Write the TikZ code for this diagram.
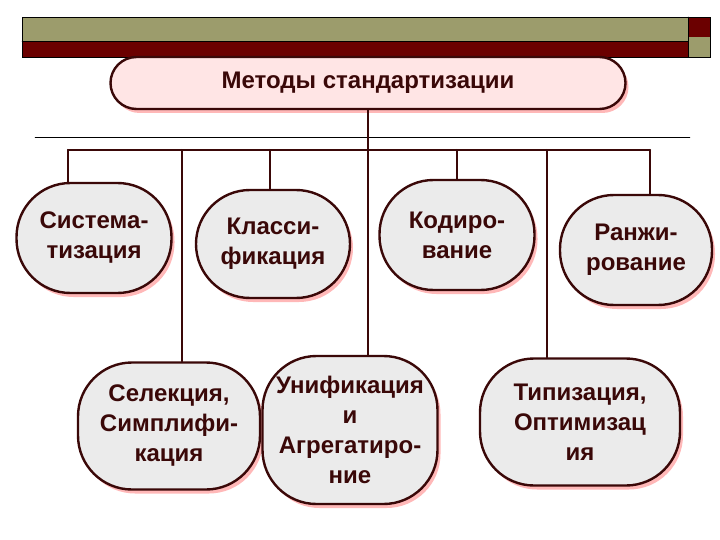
\documentclass[tikz,border=0pt]{standalone}
\usepackage{fontspec}
\setmainfont{Liberation Sans}
\usetikzlibrary{shadows}
\definecolor{olivebar}{HTML}{9C9C6C}
\definecolor{darkred}{HTML}{6B0000}
\definecolor{edge}{HTML}{3A0808}
\begin{document}
\begin{tikzpicture}
  [x=1pt,y=-1pt, line cap=round,
   box/.style={draw=edge,line width=2.4pt,rounded corners=54pt,fill=black!8,
     drop shadow={shadow xshift=3pt,shadow yshift=-4pt,fill=red!35,opacity=0.8},
     align=center,font=\bfseries\fontsize{24}{30}\selectfont,text=edge,inner sep=0pt},
   link/.style={draw=edge,line width=2pt}]
  \useasboundingbox (0,0) rectangle (720,540);
  % header bars
  \fill[olivebar] (22,17) rectangle (688,41);
  \fill[darkred] (22,41) rectangle (688,57);
  \fill[darkred] (688,17) rectangle (710,37);
  \fill[olivebar] (688,37) rectangle (710,57);
  \draw[black,thin] (22,17) rectangle (710,57) (22,41) -- (688,41) (688,17) -- (688,57);

  \node[box,fill=red!10,rounded corners=26pt,minimum width=515pt,minimum height=52pt,font=\bfseries\fontsize{24}{28}\selectfont] (root) at (368,83) {Методы стандартизации};
  \node[box,minimum width=155pt,minimum height=110pt] (sys) at (94,238) {Система-\\тизация};
  \node[box,minimum width=154pt,minimum height=108pt] (cls) at (273,244) {Класси-\\фикация};
  \node[box,minimum width=155pt,minimum height=110pt] (cod) at (457,235) {Кодиро-\\вание};
  \node[box,minimum width=152pt,minimum height=110pt] (rng) at (636,250) {Ранжи-\\рование};
  \node[box,minimum width=182pt,minimum height=127pt] (sel) at (169,426) {Селекция,\\Симплифи-\\кация};
  \node[box,minimum width=175pt,minimum height=148pt] (uni) at (350,430) {Унификация\\и\\Агрегатиро-\\ние};
  \node[box,minimum width=200pt,minimum height=127pt] (typ) at (580,422) {Типизация,\\Оптимизац\\ия};

  \draw[black,thin] (35,137) -- (690,137);
  \coordinate (hub) at (368,150);
  \draw[link] (root) -- (hub);
  \draw[link] (68,150) -- (650,150);
  \draw[link] (68,150) -- (sys.north -| 68,0);
  \draw[link] (182,150) -- (sel.north -| 182,0);
  \draw[link] (270,150) -- (cls.north -| 270,0);
  \draw[link] (hub) -- (uni.north -| 368,0);
  \draw[link] (457,150) -- (cod);
  \draw[link] (547,150) -- (typ.north -| 547,0);
  \draw[link] (650,150) -- (rng.north -| 650,0);
\end{tikzpicture}
\end{document}
